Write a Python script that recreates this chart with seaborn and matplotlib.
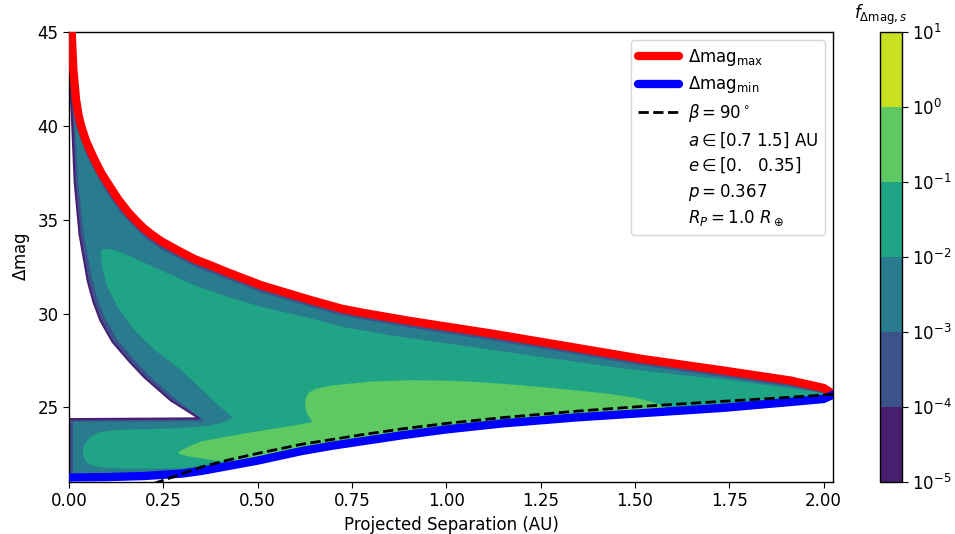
import matplotlib
matplotlib.use("Agg")
import matplotlib.pyplot as plt
import matplotlib.colors as mcolors
from matplotlib.lines import Line2D
import seaborn as sns

# ---------------- data ----------------
# Delta-mag max curve (red)
red_s = [0.006, 0.007, 0.0115, 0.0186, 0.025, 0.032, 0.045, 0.064, 0.085, 0.109,
         0.13, 0.157, 0.178, 0.198, 0.22, 0.245, 0.29, 0.333, 0.378, 0.42, 0.511,
         0.644, 0.723, 0.777, 0.900, 1.122, 1.300, 1.521, 1.734, 1.911, 2.000,
         2.025]
red_dmag = [45.6, 45.0, 43.0, 41.4, 40.6, 40.0, 39.2, 38.35, 37.5, 36.75,
            36.1, 35.4, 34.95, 34.55, 34.2, 33.85, 33.35, 32.9, 32.55, 32.2, 31.5,
            30.7, 30.26, 30.05, 29.62, 28.93, 28.33, 27.58, 26.97, 26.44, 26.04,
            25.72]

# Delta-mag min curve (blue)
blue_s = [0.0, 0.1, 0.2, 0.3, 0.351, 0.4, 0.5, 0.617, 0.7, 0.777, 0.883, 1.0,
          1.149, 1.344, 1.521, 1.734, 1.9, 2.0, 2.025]
blue_dmag = [21.27, 21.29, 21.35, 21.48, 21.62, 21.8, 22.17, 22.68, 22.97, 23.2,
             23.52, 23.83, 24.15, 24.47, 24.7, 24.98, 25.27, 25.45, 25.68]

# beta = 90 deg curve (dashed)
beta_s = [0.225, 0.3, 0.351, 0.422, 0.511, 0.617, 0.777, 0.883, 1.0, 1.149,
          1.344, 1.521, 1.734, 1.9, 2.025]
beta_dmag = [20.95, 21.47, 21.83, 22.2, 22.6, 23.04, 23.55, 23.86, 24.15, 24.46,
             24.8, 25.06, 25.33, 25.53, 25.7]

# left notch edge of the outermost contour (x=0 -> apex -> up the left arm)
notch_s = [0.0, 0.0, 0.345, 0.27, 0.2, 0.16, 0.115, 0.083, 0.065, 0.05, 0.028,
           0.015, 0.008, 0.004, 0.0]
notch_dmag = [21.27, 24.38, 24.42, 25.37, 26.6, 27.45, 28.5, 29.64, 30.6, 31.7,
              34.2, 37.0, 40.3, 42.0, 44.5]

# contour 1e-3 .. 1e-2
l3_s = [0.005, 0.007, 0.018, 0.048, 0.09, 0.135, 0.2, 0.245, 0.333, 0.378, 0.511,
        0.644, 0.723, 0.9, 1.122, 1.3, 1.521, 1.734, 1.911, 1.99, 2.02,
        2.0, 1.9, 1.734, 1.521, 1.344, 1.149, 1.0, 0.883, 0.777, 0.617, 0.5, 0.4,
        0.3, 0.2, 0.011, 0.011, 0.36, 0.285, 0.215, 0.175, 0.13, 0.097, 0.078,
        0.062, 0.039, 0.024, 0.015, 0.008]
l3_dmag = [41.9, 41.4, 40.0, 38.35, 36.75, 35.4, 34.05, 33.42, 32.5, 32.15, 31.12,
           30.33, 29.9, 29.26, 28.57, 27.98, 27.23, 26.63, 26.12, 25.82, 25.68,
           25.5, 25.32, 25.03, 24.75, 24.52, 24.2, 23.88, 23.57, 23.25, 22.73,
           22.22, 21.85, 21.53, 21.4, 21.32, 24.24, 24.27, 25.4, 26.65, 27.5,
           28.55, 29.7, 30.65, 31.75, 34.25, 37.0, 40.2, 41.4]

# contour 1e-2 .. 1e-1
l4_s = [0.085, 0.1, 0.125, 0.156, 0.245, 0.333, 0.422, 0.511, 0.644, 0.723, 0.85,
        0.989, 1.255, 1.468, 1.6, 1.734, 1.85, 1.965, 2.0,
        1.97, 1.9, 1.734, 1.521, 1.344, 1.149, 1.0, 0.883, 0.777, 0.617, 0.5,
        0.4, 0.3, 0.2, 0.1, 0.065, 0.045, 0.036, 0.04, 0.055, 0.08, 0.12, 0.2,
        0.3, 0.37, 0.41, 0.435, 0.4, 0.36, 0.3, 0.225, 0.174, 0.129, 0.1, 0.09,
        0.085]
l4_dmag = [33.37, 33.45, 33.35, 33.1, 32.3, 31.5, 30.88, 30.35, 29.73, 29.3, 28.85,
           28.45, 27.68, 27.08, 26.78, 26.5, 26.2, 25.87, 25.72,
           25.6, 25.5, 25.2, 24.93, 24.7, 24.4, 24.06, 23.77, 23.45, 22.93, 22.42,
           22.03, 21.76, 21.74, 21.77, 21.88, 22.1, 22.5, 23.0, 23.4, 23.68, 23.8,
           23.84, 23.9, 24.02, 24.2, 24.45, 25.05, 25.8, 26.95, 28.1, 29.1, 30.35,
           31.5, 32.3, 33.0]

# contour 1e-1 .. 1e0
l5_s = [0.289, 0.31, 0.351, 0.42, 0.484, 0.56, 0.62, 0.645, 0.64, 0.63, 0.626,
        0.627, 0.636, 0.655, 0.7, 0.8, 0.9, 1.0, 1.078, 1.15, 1.255, 1.35, 1.433,
        1.5, 1.545, 1.575, 1.59, 1.521, 1.344, 1.149, 1.0, 0.883, 0.777, 0.617,
        0.5, 0.44, 0.38, 0.33, 0.295]
l5_dmag = [22.62, 22.85, 23.2, 23.45, 23.68, 23.92, 24.12, 24.22, 24.4, 24.7, 25.1,
           25.45, 25.8, 26.0, 26.18, 26.38, 26.45, 26.43, 26.36, 26.26, 26.08,
           25.9, 25.72, 25.52, 25.3, 25.08, 24.9, 24.8, 24.57, 24.25, 23.93,
           23.62, 23.3, 22.78, 22.27, 22.08, 22.2, 22.35, 22.5]

levels = [1e-5, 1e-4, 1e-3, 1e-2, 1e-1, 1e0, 1e1]
xticks = [0.0, 0.25, 0.5, 0.75, 1.0, 1.25, 1.5, 1.75, 2.0]
yticks = [25, 30, 35, 40, 45]
legend_labels = [r'$\Delta\mathrm{mag}_{\mathrm{max}}$',
                 r'$\Delta\mathrm{mag}_{\mathrm{min}}$',
                 r'$\beta=90^\circ$',
                 r'$a\in$[0.7 1.5] AU',
                 r'$e\in$[0.   0.35]',
                 r'$p=0.367$',
                 r'$R_P=1.0\ R_\oplus$']

# ---------------- style ----------------
sns.set_style("ticks", {"axes.edgecolor": "black", "xtick.color": "black",
                        "ytick.color": "black", "text.color": "black",
                        "axes.labelcolor": "black"})
plt.rcParams['font.family'] = ['DejaVu Sans']
plt.rcParams['font.size'] = 12
plt.rcParams['xtick.major.size'] = 4
plt.rcParams['ytick.major.size'] = 4
plt.rcParams['axes.linewidth'] = 1.0

fig = plt.figure(figsize=(9.55, 5.34), dpi=100)
ax = fig.add_axes([69 / 955, 52 / 534, 764 / 955, 450 / 534])
cax = fig.add_axes([880 / 955, 52 / 534, 22 / 955, 450 / 534])

norm = mcolors.LogNorm(levels[0], levels[-1])
nlev = len(levels) - 1
level_colors = [plt.cm.viridis((i + 0.5) / nlev) for i in range(nlev)]

# envelope (outermost contours)
env_s = notch_s + red_s + blue_s[::-1]
env_dmag = notch_dmag + red_dmag + blue_dmag[::-1]
ax.fill(env_s, env_dmag, facecolor=level_colors[1], edgecolor=level_colors[0],
        linewidth=1.5, zorder=1)
ax.fill(l3_s, l3_dmag, facecolor=level_colors[2], linewidth=0, zorder=1.1)
ax.fill(l4_s, l4_dmag, facecolor=level_colors[3], linewidth=0, zorder=1.2)
ax.fill(l5_s, l5_dmag, facecolor=level_colors[4], linewidth=0, zorder=1.3)

sns.lineplot(x=red_s, y=red_dmag, color='red', linewidth=6, sort=False,
             estimator=None, ax=ax, zorder=3)
sns.lineplot(x=blue_s, y=blue_dmag, color='blue', linewidth=6, sort=False,
             estimator=None, ax=ax, zorder=4)
sns.lineplot(x=beta_s, y=beta_dmag, color='black', linewidth=2, linestyle='--',
             sort=False, estimator=None, ax=ax, zorder=5)

ax.set_xlim(0, 2.025)
ax.set_ylim(21.03, 45)
ax.set_xticks(xticks)
ax.set_xticklabels([f"{v:.2f}" for v in xticks])
ax.set_yticks(yticks)
ax.set_xlabel('Projected Separation (AU)')
ax.set_ylabel(r'$\Delta$mag')

handles = [Line2D([], [], color='red', linewidth=6),
           Line2D([], [], color='blue', linewidth=6),
           Line2D([], [], color='black', linewidth=2, linestyle='--')] + \
          [Line2D([], [], linestyle='none') for _ in range(4)]
ax.legend(handles, legend_labels, loc='upper right', handlelength=2.5,
          labelspacing=0.38, handletextpad=0.5)

cmap = mcolors.ListedColormap(level_colors)
sm = plt.cm.ScalarMappable(norm=norm, cmap=cmap)
cb = fig.colorbar(sm, cax=cax)
cb.set_ticks(levels)
cb.minorticks_off()
fig.text(881 / 955, 1 - 15 / 534, r'$f_{\Delta\mathrm{mag},s}$', fontsize=12,
         ha='center', va='center')

fig.savefig('out.png', dpi=100)
